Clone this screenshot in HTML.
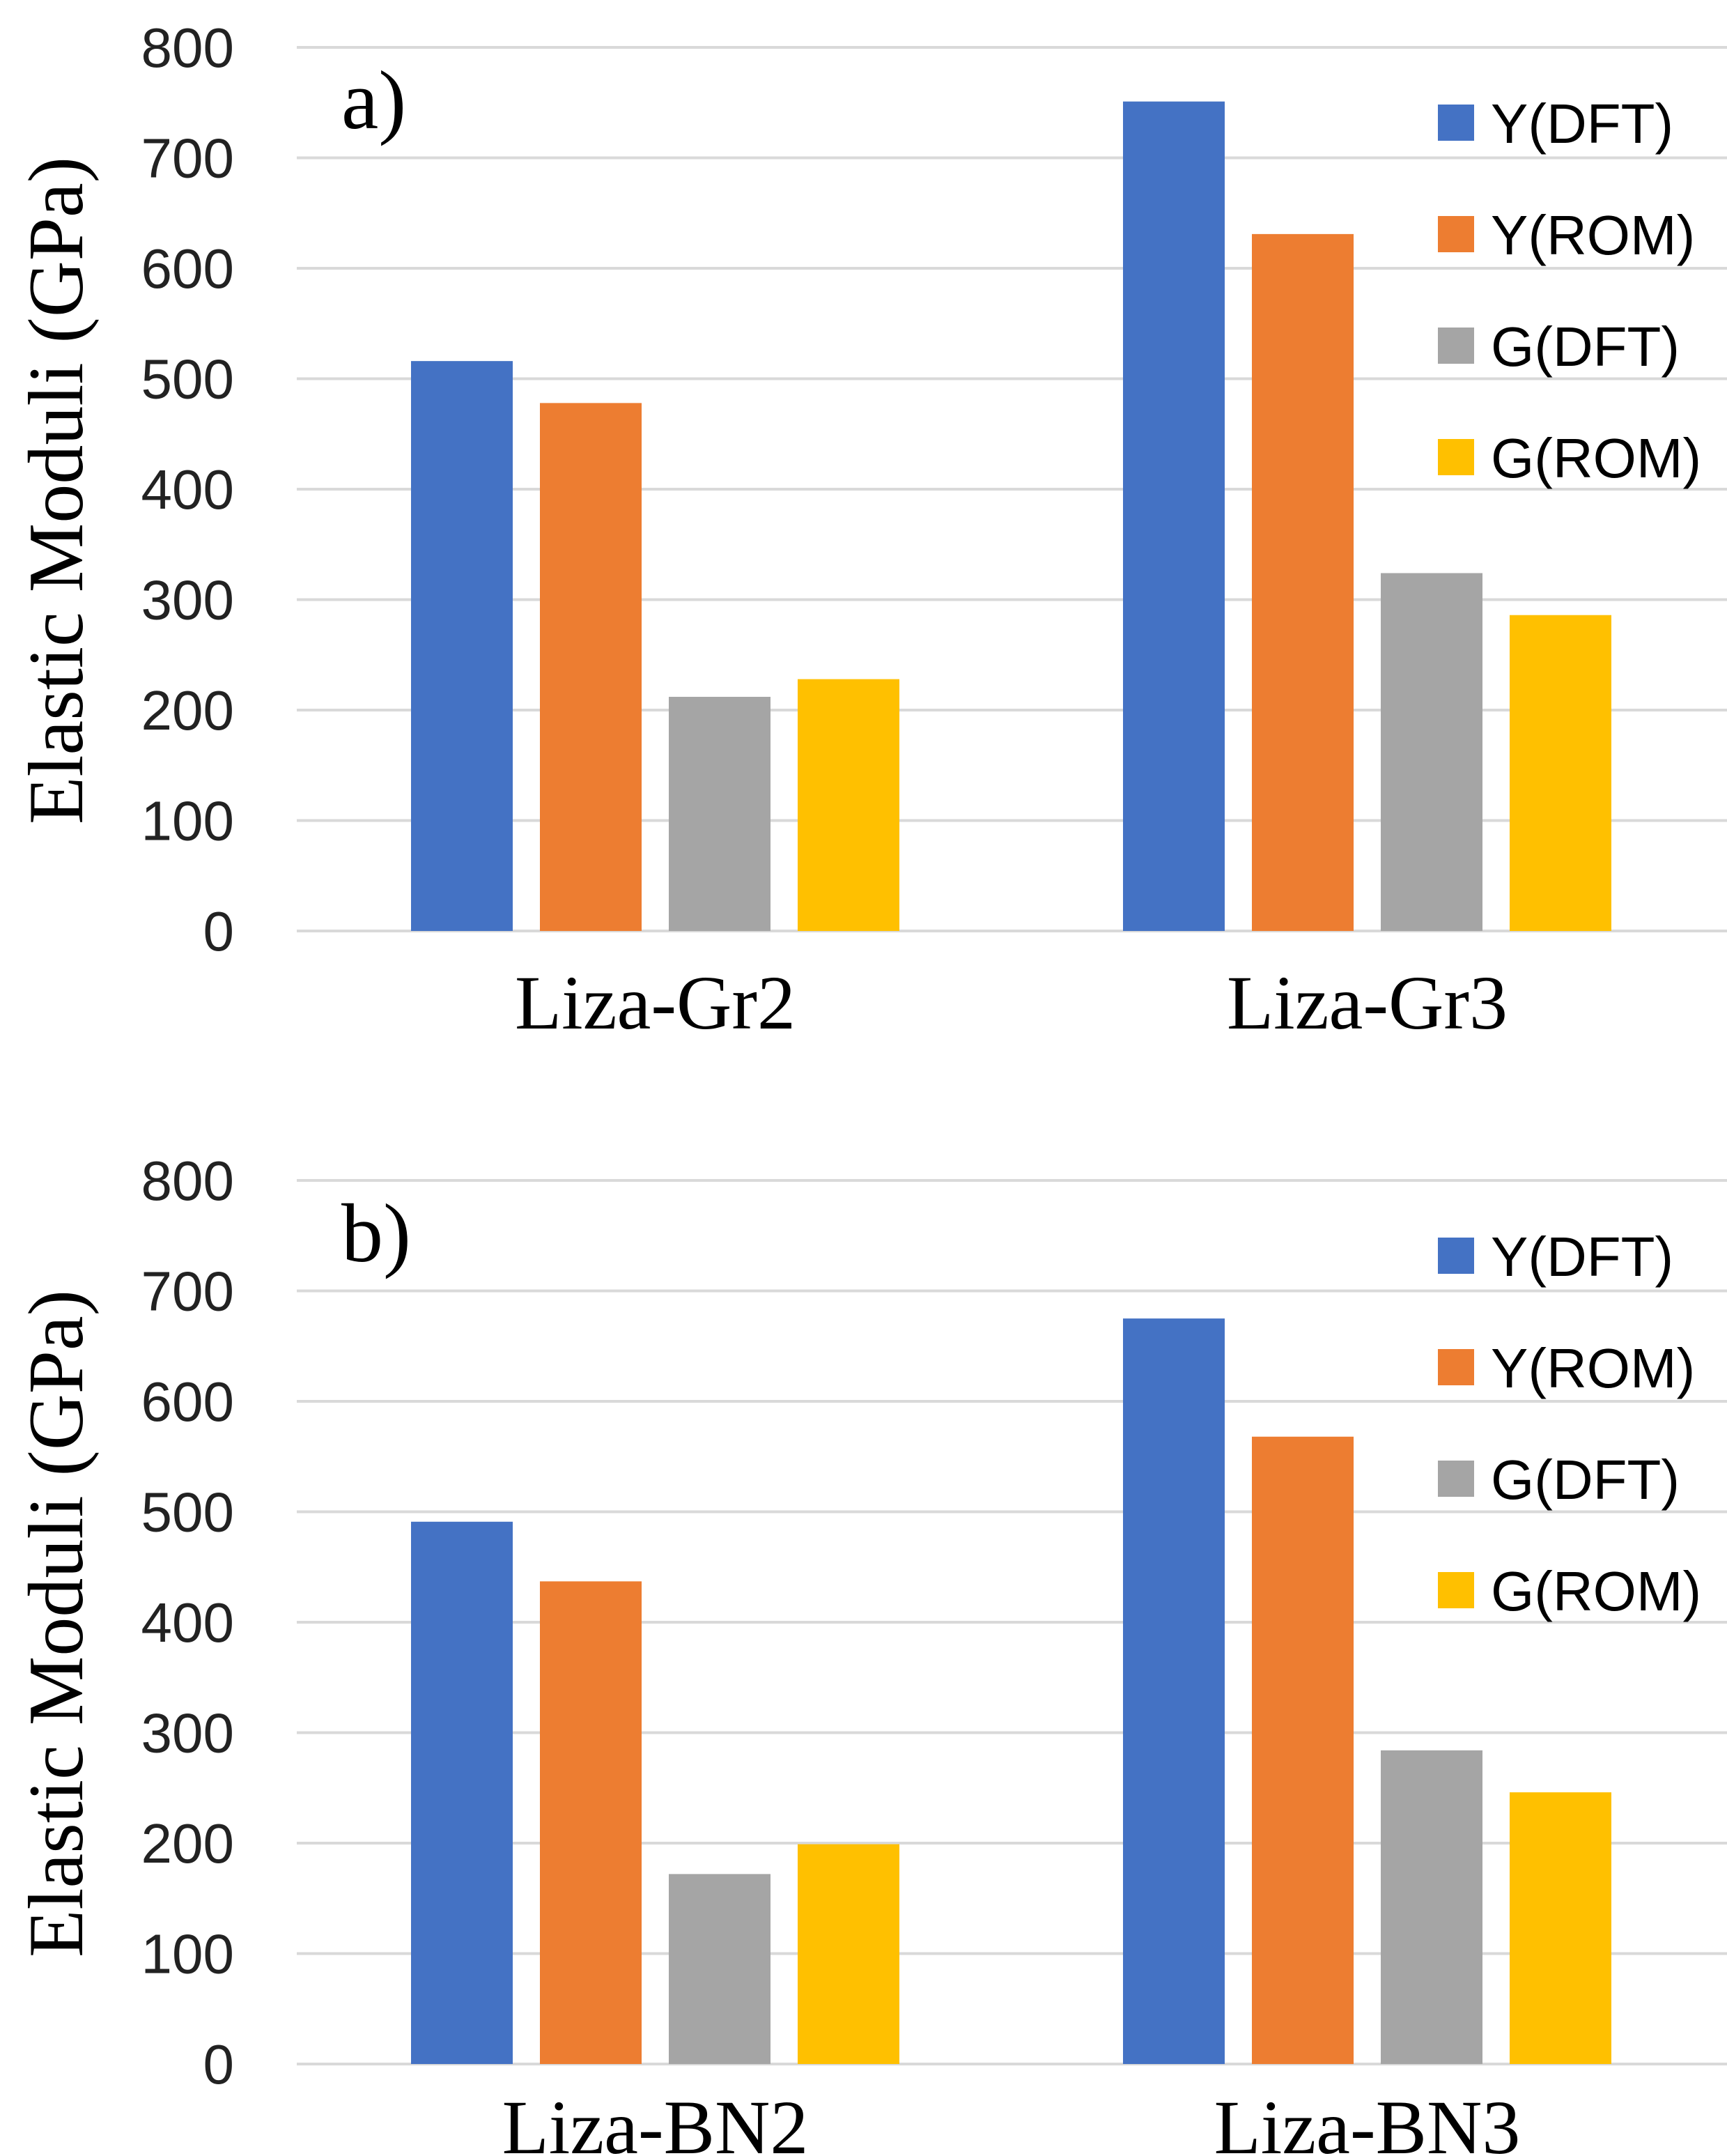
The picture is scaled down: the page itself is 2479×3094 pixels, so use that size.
<!DOCTYPE html>
<html><head><meta charset="utf-8">
<style>
html,body{margin:0;padding:0;background:#fff;}
svg{display:block;}
</style></head>
<body>
<svg id="chart" width="2479" height="3094" viewBox="0 0 2479 3094" xmlns="http://www.w3.org/2000/svg"></svg>
<script>
const seriesNames = ["Y(DFT)", "Y(ROM)", "G(DFT)", "G(ROM)"];
const seriesColors = ["#4472C4", "#ED7D31", "#A5A5A5", "#FFC000"];
const ticks = [0, 100, 200, 300, 400, 500, 600, 700, 800];
const categoriesA = ["Liza-Gr2", "Liza-Gr3"];
const categoriesB = ["Liza-BN2", "Liza-BN3"];
const valuesA_YDFT = [516, 751];
const valuesA_YROM = [478, 631];
const valuesA_GDFT = [212, 324];
const valuesA_GROM = [228, 286];
const valuesB_YDFT = [491, 675];
const valuesB_YROM = [437, 568];
const valuesB_GDFT = [172, 284];
const valuesB_GROM = [199, 246];

const NS = "http://www.w3.org/2000/svg";
const svg = document.getElementById("chart");
function mk(tag, attrs, parent, text) {
  const e = document.createElementNS(NS, tag);
  for (const k in attrs) e.setAttribute(k, attrs[k]);
  if (text !== undefined) e.textContent = text;
  parent.appendChild(e);
  return e;
}

function panel(key, label, top, cats, series, catBaseline) {
  const g = mk("g", {}, svg);
  
  
  const y0 = top + 1268, yMax = 800;
  const yScale = v => y0 - v / yMax * 1268;
  const gx0 = 426, gx1 = 2479;
  ticks.forEach(t => {
    const l = mk("line", {x1: gx0, x2: gx1, y1: yScale(t), y2: yScale(t), stroke: "#d9d9d9", "stroke-width": 4}, g);
    
    
    const tx = mk("text", {x: 336, y: yScale(t) + 28, "text-anchor": "end", "font-family": "Liberation Sans, sans-serif", "font-size": 80, fill: "#222"}, g, String(t));
    
    
  });
  const groupStarts = [590, 1612];
  const barW = 146, step = 185;
  cats.forEach((c, ci) => {
    series.forEach((vals, si) => {
      const x = groupStarts[ci] + si * step;
      const r = mk("rect", {x: x, y: yScale(vals[ci]), width: barW, height: y0 - yScale(vals[ci]), fill: seriesColors[si]}, g);
      
      
    });
    const cx = groupStarts[ci] + (3 * step + barW) / 2;
    const ct = mk("text", {x: cx, y: catBaseline, "text-anchor": "middle", "font-family": "Liberation Serif, serif", "font-size": 110, fill: "#000"}, g, c);
    
    
  });
  const yt = mk("text", {x: 0, y: 0, transform: "translate(118," + (top + 636) + ") rotate(-90)", "text-anchor": "middle", "font-family": "Liberation Serif, serif", "font-size": 112, fill: "#000"}, g, "Elastic Moduli (GPa)");
  
  
  const pl = mk("text", {x: 490, y: top + 116, "font-family": "Liberation Serif, serif", "font-size": 120, fill: "#000"}, g, label);
  
  
  seriesNames.forEach((n, i) => {
    const cy = top + 108 + i * 160;
    const lg = mk("g", {}, g);
    
    
    mk("rect", {x: 2064, y: cy - 26, width: 52, height: 52, fill: seriesColors[i]}, lg);
    mk("text", {x: 2140, y: cy + 29, "font-family": "Liberation Sans, sans-serif", "font-size": 80, fill: "#000"}, lg, n);
  });
}
panel("a", "a)", 68, categoriesA, [valuesA_YDFT, valuesA_YROM, valuesA_GDFT, valuesA_GROM], 1476);
panel("b", "b)", 1694, categoriesB, [valuesB_YDFT, valuesB_YROM, valuesB_GDFT, valuesB_GROM], 3090);
</script>
</body></html>
